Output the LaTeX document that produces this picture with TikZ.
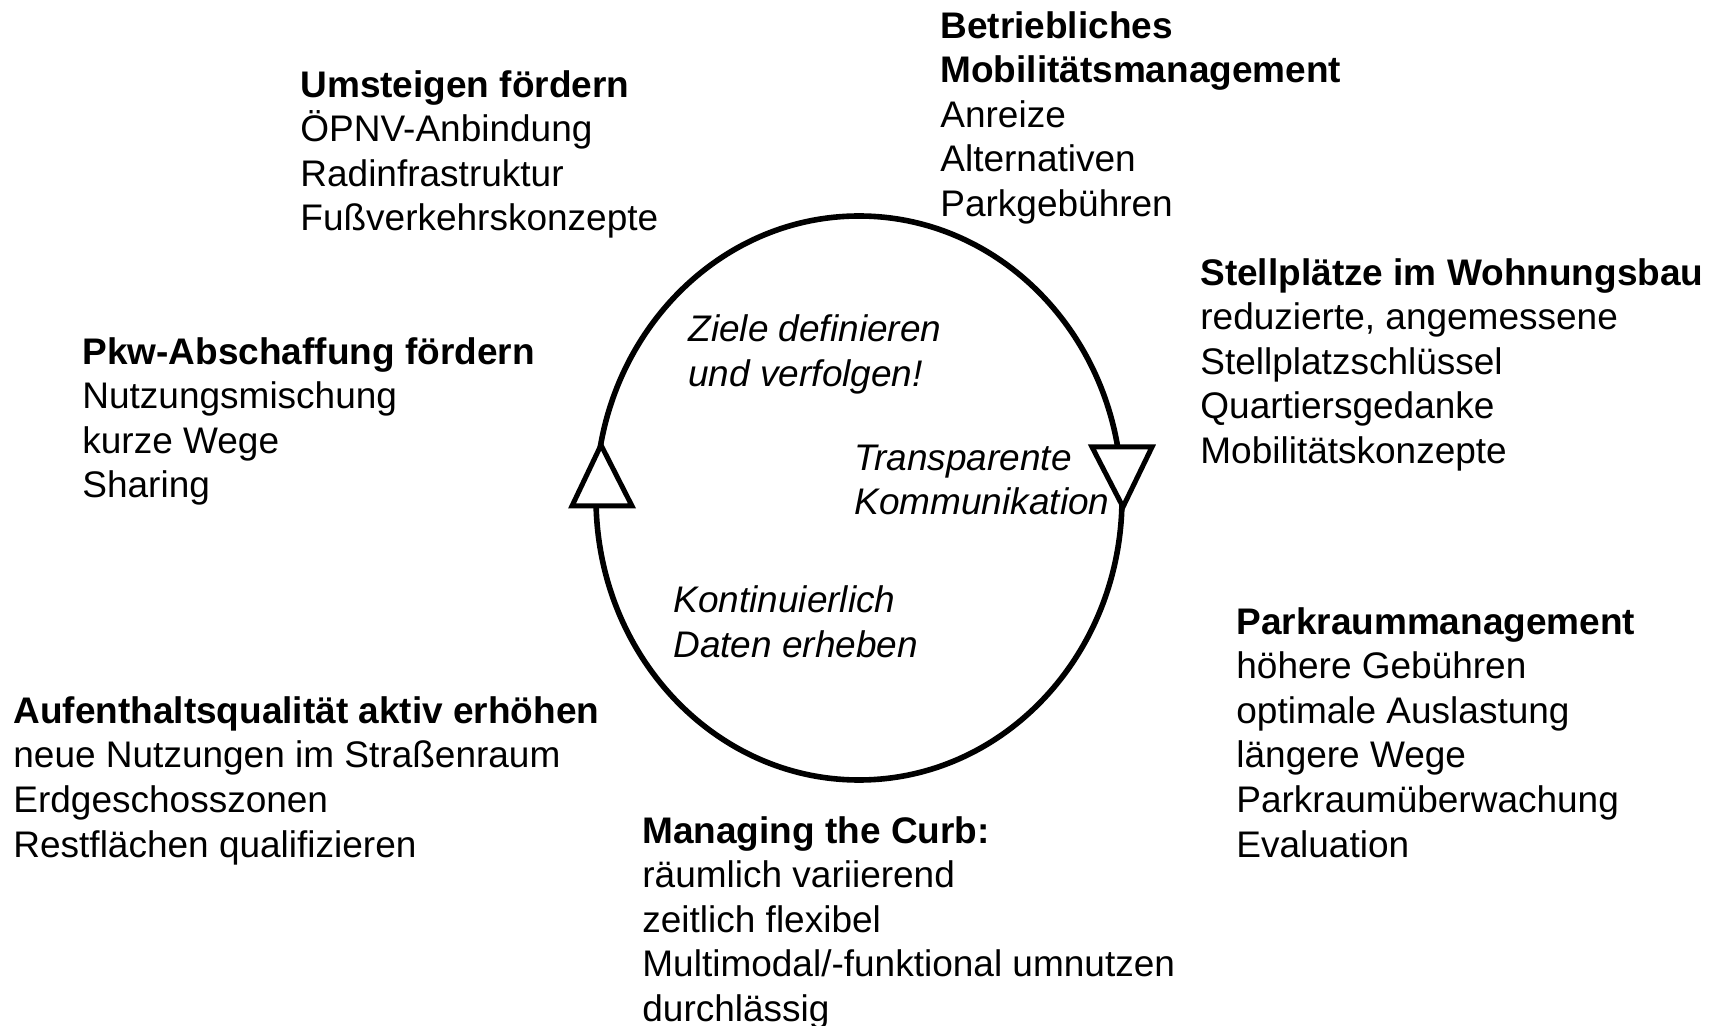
\documentclass[tikz,border=0pt]{standalone}
\usepackage{fontspec}
\setmainfont{Liberation Sans}
\usetikzlibrary{positioning}

\begin{document}
\begin{tikzpicture}
    [x=0.5pt,y=-0.5pt,
     block/.style={align=left,anchor=base west,inner sep=0pt,font=\fontsize{18.5}{22.3}\selectfont},
     step label/.style={block,font=\fontsize{18.5}{22.3}\selectfont\itshape},
     tri/.style={draw,fill=white,line width=2.5pt,line join=miter}]

    \useasboundingbox (0,0) rectangle (1721,1026);

    % cycle in the middle
    \draw[line width=2.8pt] (859,498) ellipse [x radius=263, y radius=282];
    \draw[tri] (601,445) -- (632,506) -- (572,506) -- cycle;
    \draw[tri] (1092,447) -- (1152,447) -- (1123,507) -- cycle;

    % base anchor sits on the last line
    \node[step label] (ziele) at (688,386.6) {Ziele definieren\\und verfolgen!};
    \node[step label] (komm) at (854,515) {Transparente\\Kommunikation};
    \node[step label] (daten) at (673,657.6) {Kontinuierlich\\Daten erheben};

    % measures around the cycle
    \node[block] (umsteigen) at (300,231)
        {\textbf{Umsteigen fördern}\\ÖPNV-Anbindung\\Radinfrastruktur\\Fußverkehrskonzepte};
    \node[block] (betrieb) at (940,216.5)
        {\textbf{Betriebliches}\\\textbf{Mobilitätsmanagement}\\Anreize\\Alternativen\\Parkgebühren};
    \node[block] (stellpl) at (1200,463.5)
        {\textbf{Stellplätze im Wohnungsbau}\\reduzierte, angemessene\\Stellplatzschlüssel\\Quartiersgedanke\\Mobilitätskonzepte};
    \node[block] (pkw) at (82,498)
        {\textbf{Pkw-Abschaffung fördern}\\Nutzungsmischung\\kurze Wege\\Sharing};
    \node[block] (aufenth) at (13,857)
        {\textbf{Aufenthaltsqualität aktiv erhöhen}\\neue Nutzungen im Straßenraum\\Erdgeschosszonen\\Restflächen qualifizieren};
    \node[block] (curb) at (642,1021.4)
        {\textbf{Managing the Curb:}\\räumlich variierend\\zeitlich flexibel\\Multimodal/-funktional umnutzen\\durchlässig};
    \node[block] (parkraum) at (1236,857)
        {\textbf{Parkraummanagement}\\höhere Gebühren\\optimale Auslastung\\längere Wege\\Parkraumüberwachung\\Evaluation};

\end{tikzpicture}
\end{document}
